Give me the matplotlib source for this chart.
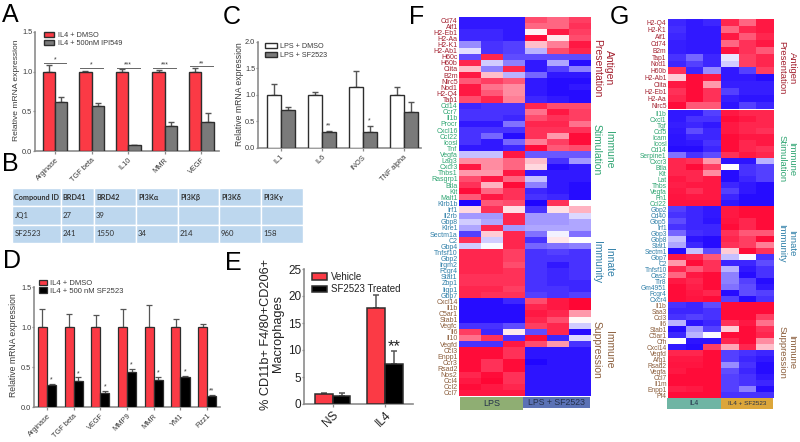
#!/usr/bin/env python3

import numpy as np
import matplotlib
matplotlib.use('Agg')
import matplotlib.pyplot as plt
from matplotlib.colors import LinearSegmentedColormap

plt.rcParams['font.family'] = ['Liberation Sans', 'DejaVu Sans']

W, H = 800, 442

RED = '#fb3a45'
GRAY = '#7a7a7a'
AXIS = '#8c8c8c'
EDGE = '#2e2e2e'
TXT = '#3a3a3a'
C_ANT = '#a3202f'
C_STIM = '#2fa572'
C_INN = '#2f7fa8'
C_SUP = '#8b5e3c'

# panel A
a_genes = ['Arginase', 'TGF beta', 'IL10', 'MMR', 'VEGF']
a_ctrl = [1.0, 1.0, 1.0, 1.0, 1.0]
a_ctrl_top = [1.09, 1.01, 1.03, 1.02, 1.04]
a_drug = [0.62, 0.57, 0.08, 0.32, 0.37]
a_drug_top = [0.68, 0.61, 0.08, 0.36, 0.48]
a_stars = ['*', '*', '***', '***', '**']
a_line = [1.11, 1.05, 1.05, 1.05, 1.07]

# panel C
c_genes = ['IL1', 'IL6', 'iNOS', 'TNF alpha']
c_ctrl = [1.0, 1.0, 1.16, 1.0]
c_ctrl_top = [1.21, 1.05, 1.45, 1.15]
c_drug = [0.72, 0.30, 0.31, 0.67]
c_drug_top = [0.78, 0.32, 0.41, 0.86]
c_stars = ['', '**', '*', '']

# panel D
d_genes = ['Arginase', 'TGF beta', 'VEGF', 'MMP9', 'MMR', 'YM1', 'Fizz1']
d_ctrl = [1.0, 1.0, 1.0, 1.0, 1.0, 1.0, 1.0]
d_ctrl_top = [1.22, 1.16, 1.15, 1.23, 1.28, 1.10, 1.04]
d_drug = [0.28, 0.33, 0.17, 0.44, 0.34, 0.38, 0.14]
d_drug_top = [0.29, 0.37, 0.20, 0.48, 0.38, 0.39, 0.15]
d_stars = ['*', '*', '*', '*', '*', '*', '**']

# panel E
e_groups = ['NS', 'IL4']
e_veh = [1.8, 17.7]
e_veh_top = [2.0, 20.2]
e_drug = [1.4, 7.4]
e_drug_top = [2.1, 9.9]

# table B
b_cols = ['Compound ID', 'BRD41', 'BRD42', 'PI3Kα', 'PI3Kβ', 'PI3Kδ', 'PI3Kγ']
b_jq1 = ['JQ1', '27', '39', '', '', '', '']
b_sf = ['SF2523', '241', '1550', '34', '214', '960', '158']

# heatmap F
f_ant_labels = ['Cd74', 'Aif1', 'H2-Eb1', 'H2-Aa', 'H2-K1', 'H2-Ab1', 'H60c', 'H60b', 'Ciita', 'B2m', 'Nlrc5', 'Nod1', 'H2-Q4', 'Tap1']
f_ant = [
    [-.9, -.9, -.9, .7, .6, .75],
    [-.9, -.9, -.9, .6, .6, .8],
    [-.85, -.85, -.9, .05, .9, .75],
    [-.85, -.85, -.9, .95, .1, .7],
    [-.45, -.8, -.75, .25, .5, .9],
    [-.12, -.8, -.75, -.3, .7, .85],
    [-.7, .85, -.7, -.7, -.7, -.7],
    [.85, -.2, -.5, -.9, -.35, -.95],
    [.25, -.5, .85, -.9, -.75, -.5],
    [.9, .25, -.3, -.6, -.9, -.9],
    [.65, .75, .65, -.9, -.95, -.95],
    [.9, .55, .45, -.9, -.95, -.9],
    [.9, .65, .45, -.9, -.95, -.95],
    [.7, .85, .5, -.85, -.9, -.95],
]
f_stim_labels = ['Cd14', 'Ccr7', 'Il1b', 'Procr', 'Cxcl16', 'Ccl22', 'Icosl', 'Tnf', 'Vegfa', 'Lag3', 'Cxcr3', 'Thbs1', 'Rasgrp1', 'Btla', 'Kit', 'Malt1']
f_stim = [
    [-.85, -.8, -.8, .85, .7, .7],
    [-.8, -.8, -.8, .55, .9, .75],
    [-.8, -.8, -.85, .7, .8, .75],
    [-.9, -.9, -.55, .85, .85, .55],
    [-.8, -.8, -.8, .8, .8, .8],
    [-.8, -.6, -.95, .8, .4, .95],
    [-.8, -.9, -.6, .5, .75, .95],
    [-.9, -.9, -.85, .95, .65, .7],
    [-.25, -.25, .9, -.65, -.65, -.65],
    [.45, .45, .6, .25, -.8, -.4],
    [.9, .45, .6, .15, -.95, -.9],
    [.4, .4, .9, -.9, -.9, -.9],
    [.7, .9, .6, -.25, -.9, -.9],
    [.8, .3, .95, -.5, -.9, -.95],
    [.95, .6, .8, -.85, -.9, -.95],
    [.65, .9, .8, -.8, -.85, -.95],
]
f_inn_labels = ['Klrb1b', 'Irf1', 'Il2rb', 'Gbp8', 'Klre1', 'Sectm1a', 'C2', 'Gbp4', 'Tnfsf10', 'Gbp2', 'Irgm2', 'Fcgr4', 'Stat1', 'Zbp1', 'Iigp1', 'Gbp7']
f_inn = [
    [-.98, .65, .7, -.98, .8, 0],
    [.15, .8, .12, -.8, .12, .3],
    [-.4, -.4, .85, -.4, -.4, -.15],
    [-.2, -.35, .85, -.4, -.4, -.35],
    [-.35, .85, -.4, -.35, -.35, -.35],
    [-.75, .2, .85, -.55, -.05, -.55],
    [.8, -.2, .85, -.8, .1, 0],
    [-.2, -.02, .85, -.6, -.55, -.5],
    [.85, .85, .75, -.8, -.75, -.8],
    [.85, .85, .75, -.8, -.8, -.8],
    [.85, .85, .7, -.8, -.9, -.8],
    [.85, .85, .8, -.8, -.85, -.8],
    [.8, .8, .8, -.8, -.85, -.8],
    [.8, .8, .8, -.8, -.85, -.85],
    [.85, .85, .75, -.8, -.8, -.85],
    [.85, .8, .8, -.75, -.8, -.75],
]
f_sup_labels = ['Cxcl14', 'Il1b', 'C5ar1', 'Stab1', 'Vegfc', 'Il6', 'Il10', 'Vegfd', 'Ccl3', 'Enpp1', 'Ccr3', 'Rsad2', 'Nos2', 'Ccl4', 'Ccl2', 'Ccl7']
f_sup = [
    [-.95, -.95, -.85, .7, .9, .97],
    [-.95, -.95, -.95, .85, .9, .97],
    [-.95, -.95, -.95, .9, .85, .4],
    [-.95, -.95, -.95, .85, .7, .03],
    [-.8, -.8, -.7, .75, .85, -.2],
    [.75, -.85, .08, -.7, .85, -.95],
    [.55, .8, -.8, .95, -.85, -.15],
    [-.8, -.8, .9, .7, .4, -.8],
    [.95, .95, .8, -.92, -.92, -.92],
    [.95, .95, .8, -.92, -.92, -.92],
    [.95, .8, .95, -.97, -.92, -.92],
    [.95, .8, .95, -.92, -.92, -.92],
    [.85, .95, .8, -.92, -.92, -.92],
    [.9, .97, .8, -.92, -.92, -.92],
    [.95, .9, .85, -.92, -.92, -.92],
    [.9, .9, .9, -.92, -.92, -.92],
]

# heatmap G
g_ant_labels = ['H2-Q4', 'H2-K1', 'Aif1', 'Cd74', 'B2m', 'Tap1', 'Nod1', 'H60b', 'H2-Ab1', 'Ciita', 'H2-Eb1', 'H2-Aa', 'Nlrc5']
g_ant = [
    [-.85, -.9, -.85, .85, .6, .9],
    [-.82, -.9, -.9, .6, .85, .9],
    [-.85, -.9, -.9, .9, .65, .85],
    [-.88, -.9, -.9, .6, .8, .9],
    [-.88, -.9, -.9, .92, .8, .65],
    [-.8, -.6, -.85, -.1, .75, .85],
    [-.85, -.75, -.85, -.2, .75, .85],
    [.8, -.85, -.45, -.9, -.75, .75],
    [.2, .95, .9, -.9, -.9, -.95],
    [.9, .95, .4, -.88, -.88, -.88],
    [.8, .95, .8, -.75, -.88, -.88],
    [.85, .95, .8, -.88, -.92, -.92],
    [.95, .65, .65, -.92, -.75, -.85],
]
g_stim_labels = ['Il1b', 'Cxcl1', 'Tgf', 'Ccl5', 'Icam', 'Icosl', 'Cd14', 'Serpine1', 'Cxcr3', 'Btla', 'Kit', 'Lat', 'Thbs', 'Vegfa', 'Fn1', 'Ccl22']
g_stim = [
    [-.9, -.9, -.75, .9, .85, .85],
    [-.9, -.8, -.8, .95, .9, .85],
    [-.88, -.85, -.9, .9, .85, .85],
    [-.9, -.7, -.85, .9, .85, .8],
    [-.92, -.85, -.85, .95, .9, .9],
    [-.92, -.9, -.8, .95, .85, .9],
    [-.95, -.95, -.85, .95, .85, .8],
    [-.55, -.8, -.7, .8, .9, .85],
    [.85, .8, .4, -.92, -.92, -.3],
    [.85, .95, .75, 0, -.8, -.75],
    [.85, .85, .45, -.95, -.8, -.75],
    [.9, .85, .9, -.95, -.85, -.75],
    [.88, .9, .9, -.85, -.9, -.95],
    [.9, .82, .9, -.75, -.9, -.95],
    [.92, .9, .9, -.85, -.95, -.95],
    [.92, .92, .92, -.9, -.95, -.95],
]
g_inn_labels = ['Gbp2', 'Cd40', 'Gbp5', 'Irf1', 'Gbp3', 'Gbp8', 'Stat1', 'Sectm1', 'Gbp7', 'C2', 'Tnfsf10', 'Oas2', 'Tlr8', 'Gm4951', 'Fcgr4', 'Cxcr4']
g_inn = [
    [-.75, -.85, -.9, .9, .95, .95],
    [-.8, -.85, -.9, .9, .95, .95],
    [-.7, -.85, -.92, .92, .85, .95],
    [-.8, -.85, -.85, .95, .85, .95],
    [-.6, -.82, -.85, .8, .65, .65],
    [-.25, -.92, -.95, .85, .75, .95],
    [-.35, -.85, -.95, .8, .75, .5],
    [-.95, -.25, -.7, .2, .95, .8],
    [.9, .85, .65, -.25, -.03, -.8],
    [.4, .95, .8, -.85, -.85, -.7],
    [.85, .65, .8, -.3, -.9, -.8],
    [.6, .9, .95, -.5, -.95, -.8],
    [.9, .85, .95, -.5, -.75, -.95],
    [.95, .88, .95, -.55, -.7, -.9],
    [.95, .9, .85, -.95, -.7, -.75],
    [.95, .92, .95, -.75, -.95, -.8],
]
g_sup_labels = ['Il1b', 'Saa3', 'Ccl3', 'Il6', 'Stab1', 'C5ar1', 'Cfh', 'Cxcl14', 'Vegfd', 'Arg1', 'Rsad2', 'Vegfa', 'Ccl7', 'Il1m', 'Enpp1', 'Pf4']
g_sup = [
    [-.8, -.85, -.7, .95, .95, .95],
    [-.85, -.85, -.8, .95, .95, .95],
    [-.8, -.75, -.8, .95, .95, .75],
    [-.3, -.92, -.85, .8, .9, .55],
    [-.95, -.4, -.75, .2, .95, .8],
    [-.85, -.3, -.02, .95, .95, .85],
    [0, -.92, -.92, .85, .95, .45],
    [-.9, -.95, .75, .35, .85, .25],
    [.85, .85, .95, -.75, -.8, -.85],
    [.9, .9, .95, -.75, -.85, -.9],
    [.92, .92, .95, -.45, -.8, -.95],
    [.9, .95, .95, -.7, -.85, -.95],
    [.95, .95, .95, -.75, -.8, -.9],
    [.95, .95, .95, -.75, -.8, -.85],
    [.88, .9, .95, -.75, -.5, -.95],
    [.95, .95, .95, -.8, -.8, -.8],
]

fig = plt.figure(figsize=(W / 100, H / 100), dpi=100, facecolor='white')
heat_cmap = LinearSegmentedColormap.from_list('bwr2', ['#1c00ff', '#ffffff', '#ff0030'])


def px_axes(left, top, right, bottom):
    return fig.add_axes([left / W, 1 - bottom / H, (right - left) / W, (bottom - top) / H])


def px_text(x, y, s, **kw):
    return fig.text(x / W, 1 - y / H, s, **kw)


def grouped_bars(box, xlim, ylim, yticks, width, genes, s1, top1, s2, top2, colors, labels, fs=5.3, lw=1.0, tick_color=TXT):
    ax = px_axes(*box)
    x = np.arange(len(genes))
    for off, vals, tops, col, lab in ((-width / 2, s1, top1, colors[0], labels[0]),
                                      (width / 2, s2, top2, colors[1], labels[1])):
        ax.bar(x + off, vals, width, color=col, edgecolor=EDGE, linewidth=lw, label=lab, zorder=3)
        up = np.array(tops) - np.array(vals)
        ax.errorbar(x + off, vals, yerr=[np.zeros(len(up)), up], fmt='none', ecolor='#555555',
                    elinewidth=lw, capsize=2.2, capthick=lw, zorder=2)
    ax.set_xlim(*xlim)
    ax.set_ylim(*ylim)
    ax.set_yticks(yticks)
    ax.set_xticks(x)
    ax.set_xticklabels(genes, rotation=45, ha='right', rotation_mode='anchor', color=tick_color, fontsize=fs)
    ax.tick_params(axis='y', labelsize=fs, length=1.2, width=0.9, color=AXIS, pad=0.8, labelcolor=tick_color)
    ax.tick_params(axis='x', length=2.0, width=0.9, color=AXIS, pad=2)
    ax.patch.set_alpha(0)
    for s in ('top', 'right'):
        ax.spines[s].set_visible(False)
    for s in ('left', 'bottom'):
        ax.spines[s].set_color(AXIS)
        ax.spines[s].set_linewidth(1.2)
    return ax


def bar_legend(ax, anchor, fontsize, spacing, hl=1.4, hh=0.7, tc=TXT):
    ax.legend(loc='upper left', bbox_to_anchor=anchor, bbox_transform=fig.transFigure, frameon=False,
              fontsize=fontsize, labelspacing=spacing, handlelength=hl, handleheight=hh, handletextpad=0.5,
              borderpad=0, borderaxespad=0, labelcolor=tc)


def heat_panel(box, rows, labels, colors, fs=5.0):
    ax = px_axes(*box)
    ax.imshow(np.array(rows), cmap=heat_cmap, vmin=-1, vmax=1, aspect='auto', interpolation='nearest')
    ax.set_xticks([])
    ax.set_yticks(np.arange(len(labels)))
    ax.set_yticklabels(labels, fontsize=fs)
    ax.tick_params(axis='y', length=0, pad=1)
    for t, c in zip(ax.get_yticklabels(), colors):
        t.set_color(c)
    for s in ax.spines.values():
        s.set_visible(False)
    return ax


def strip(box, color, label, fs, **kw):
    ax = px_axes(*box)
    ax.set_facecolor(color)
    ax.set_xticks([])
    ax.set_yticks([])
    for s in ax.spines.values():
        s.set_visible(False)
    ax.text(0.5, 0.48, label, transform=ax.transAxes, ha='center', va='center', fontsize=fs, color='#24304a', **kw)


# panel A
ax = grouped_bars((35, 32, 219, 151), (-0.546, 4.48), (0, 1.5), [0, 0.5, 1.0, 1.5], 0.34,
                  a_genes, a_ctrl, a_ctrl_top, a_drug, a_drug_top, (RED, GRAY),
                  ('IL4 + DMSO', 'IL4 + 500nM IPI549'))
ax.set_yticklabels(['0.0', '0.5', '1.0', '1.5'])
for i, (st, h) in enumerate(zip(a_stars, a_line)):
    ax.plot([i - 0.31, i + 0.31], [h, h], color='#666666', lw=0.7)
    ax.text(i, h - 0.01, st, ha='center', va='bottom', fontsize=5, color=TXT)
bar_legend(ax, (44 / W, 1 - 32 / H), 5.3, 0.05)
px_text(17, 90, 'Relative mRNA expression', rotation=90, ha='center', va='center', fontsize=6.1, color=TXT)

# panel C
ax = grouped_bars((258, 42, 421, 148), (-0.55, 3.42), (0, 2.0), [0, 0.5, 1.0, 1.5, 2.0], 0.34,
                  c_genes, c_ctrl, c_ctrl_top, c_drug, c_drug_top, ('white', GRAY),
                  ('LPS + DMSO', 'LPS + SF2523'))
ax.set_yticklabels(['0.0', '0.5', '1.0', '1.5', '2.0'])
for i, st in enumerate(c_stars):
    if st:
        ax.text(i + 0.17, c_drug_top[i] + 0.03, st, ha='center', va='bottom', fontsize=5, color=TXT)
bar_legend(ax, (265 / W, 1 - 43 / H), 5.2, 0.25, hl=1.6)
px_text(239, 94, 'Relative mRNA expression', rotation=90, ha='center', va='center', fontsize=6.2, color=TXT)

# panel D
ax = grouped_bars((34, 287, 220, 407), (-0.487, 6.48), (0, 1.5), [0, 0.5, 1.0, 1.5], 0.34,
                  d_genes, d_ctrl, d_ctrl_top, d_drug, d_drug_top, (RED, 'black'),
                  ('IL4 + DMSO', 'IL4 + 500 nM SF2523'), lw=0.9)
ax.set_yticklabels(['0.0', '0.5', '1.0', '1.5'])
for i, st in enumerate(d_stars):
    ax.text(i + 0.17, d_drug_top[i] + 0.005, st, ha='center', va='bottom', fontsize=5, color=TXT)
bar_legend(ax, (39 / W, 1 - 280 / H), 5.5, 0.0, hl=1.0)
px_text(14, 345, 'Relative mRNA expression', rotation=90, ha='center', va='center', fontsize=6.2, color=TXT)

# panel E
ax = grouped_bars((304, 269, 413, 404), (-0.545, 1.53), (0, 25), [0, 5, 10, 15, 20, 25], 0.34,
                  e_groups, e_veh, e_veh_top, e_drug, e_drug_top, (RED, 'black'),
                  ('Vehicle', 'SF2523 Treated'), fs=8.5, lw=1.1, tick_color='#222222')
ax.text(1.17, e_drug_top[1] - 0.6, '**', ha='center', va='bottom', fontsize=12, color='#222222')
bar_legend(ax, (312 / W, 1 - 272 / H), 7, 0.25, hl=1.5, tc='#222222')
px_text(272, 334, '% CD11b+ F4/80+CD206+\nMacrophages', rotation=90, ha='center', va='center',
        multialignment='center', fontsize=9.2, color='#222222', linespacing=1.0)

# table B
ax = px_axes(12, 188, 303, 243)
ax.axis('off')
col_px = np.array([48.5, 33.5, 42, 42, 41, 42, 42])
tab = ax.table(cellText=[b_cols, b_jq1, b_sf], colWidths=list(col_px / col_px.sum()), bbox=[0, 0, 1, 1], cellLoc='left')
tab.auto_set_font_size(False)
for (r, c), cell in tab.get_celld().items():
    cell.set_facecolor('#bdd7ee')
    cell.set_edgecolor('white')
    cell.set_linewidth(1.0)
    cell.PAD = 0.05
    cell.get_text().set_color('#303030')
    cell.get_text().set_family(['Lato', 'DejaVu Sans'])
    cell.get_text().set_fontsize(5.6)
    if r == 0:
        cell.get_text().set_fontsize(5.2)
        cell.get_text().set_fontweight('bold')

# heatmap F
f_rows = f_ant + f_stim + f_inn + f_sup
f_labels = f_ant_labels + f_stim_labels + f_inn_labels + f_sup_labels
f_colors = [C_ANT] * len(f_ant) + [C_STIM] * len(f_stim) + [C_INN] * len(f_inn) + [C_SUP] * len(f_sup)
heat_panel((459, 17, 591, 396), f_rows, f_labels, f_colors)
strip((460, 397, 523, 410), '#8fae73', 'LPS', 6.5)
strip((523, 397, 590, 408), '#5b72b5', 'LPS + SF2523', 6.3)

# heatmap G
heat_panel((668, 19, 774, 109), g_ant, g_ant_labels, [C_ANT] * len(g_ant), fs=4.8)
g_rows = g_stim + g_inn + g_sup
g_labels = g_stim_labels + g_inn_labels + g_sup_labels
g_colors = [C_STIM] * len(g_stim) + [C_INN] * len(g_inn) + [C_SUP] * len(g_sup)
heat_panel((668, 110, 774, 398), g_rows, g_labels, g_colors, fs=4.8)
strip((667, 398, 721, 408.5), '#6fb5a4', 'IL4', 4.8)
strip((721, 398, 773, 408.5), '#dca63a', 'IL4 + SF2523', 4.6)

# group captions beside the heatmaps
captions = [(68, 150, 262, 350), (68, 159, 243, 352)]
names = [('Antigen', 'Presentation', C_ANT), ('Immune', 'Stimulation', C_STIM),
         ('Innate', 'Immunity', C_INN), ('Immune', 'Suppression', C_SUP)]
for (xa, xb, fs), ys in zip(((609, 597, 7.5), (792, 782, 6.8)), captions):
    for y, (top_word, low_word, col) in zip(ys, names):
        px_text(xa, y, top_word, rotation=270, ha='center', va='center', fontsize=fs, color=col)
        px_text(xb, y, low_word, rotation=270, ha='center', va='center', fontsize=fs, color=col)

# panel letters
letters = [('A', 2, 22), ('B', 2, 171), ('C', 223, 24), ('D', 3, 268), ('E', 225, 270), ('F', 409, 24), ('G', 610, 24)]
for s, x, y in letters:
    px_text(x, y, s, fontsize=18, ha='left', va='baseline', color='black')

fig.savefig('out.png', dpi=100, facecolor=fig.get_facecolor())
